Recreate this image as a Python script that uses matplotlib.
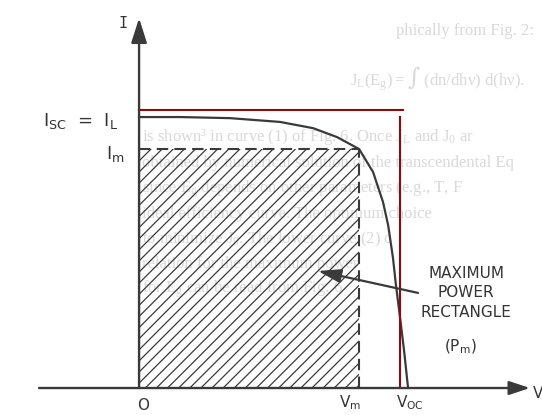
import matplotlib.pyplot as plt
from matplotlib.patches import Rectangle

# I-V curve of the cell (normalised: V / Voc, I / Isc)
v_curve = [0.0, 0.152, 0.338, 0.524, 0.647, 0.736, 0.818, 0.870, 0.907,
           0.926, 0.944, 0.955, 0.970, 0.985, 1.0]
i_curve = [1.0, 1.0, 0.996, 0.982, 0.959, 0.926, 0.882, 0.797, 0.686,
           0.601, 0.480, 0.380, 0.262, 0.140, 0.0]

# maximum power point
v_m, i_m = 0.818, 0.882

# red Isc x Voc box (drawn by hand, slightly off)
red_i, red_h_end = 1.026, 0.981
red_v, red_v_end = 0.970, 1.0

# axes extents
v_axis = [-0.372, 1.453]
i_axis = [0.0, 1.365]

ink = '#3a3a3a'
red = '#8b0a0a'
ghost = '#d9d9d9'

plt.rcParams['mathtext.default'] = 'regular'
plt.rcParams['hatch.linewidth'] = 0.9

fig = plt.figure(figsize=(5.42, 4.15), dpi=100)

# faint show-through of the printed page behind the figure
page_lines = [
    (0.730, 0.915, "phically from Fig. 2:"),
    (0.645, 0.793, r"$J_L(E_g) = \int$ (dn/dh$\nu$) d(h$\nu$)."),
    (0.262, 0.660, "is shown³ in curve (1) of Fig. 6. Once $J_L$ and $J_0$ ar"),
    (0.262, 0.598, "obtained by numerical solution of the transcendental Eq"),
    (0.262, 0.536, "since $E_g$ depends on other parameters (e.g., T, F"),
    (0.262, 0.474, "ideal efficiency curve. The optimum choice"),
    (0.262, 0.414, "to minimize $J_0$. The lower curve (2) c"),
    (0.262, 0.354, "relation for the maximum power"),
    (0.262, 0.294, "for $E_g$ can be read from Fig. 6"),
]
for x, y, s in page_lines:
    fig.text(x, y, s, color=ghost, fontsize=12, family='Liberation Serif',
             zorder=0, math_fontfamily='dejavuserif')

ax = fig.add_axes([0, 0, 1, 1])
ax.set_zorder(1)
ax.set_xlim(-0.517, 1.498)
ax.set_ylim(-0.0996, 1.432)
ax.axis('off')

# hatched maximum power rectangle
ax.add_patch(Rectangle((0, 0), v_m, i_m, facecolor='none', edgecolor=ink,
                       hatch='///', linewidth=0, zorder=2))
ax.plot([0, v_m], [i_m, i_m], color=ink, lw=1.5, dashes=(5.5, 3), zorder=3)
ax.plot([v_m, v_m], [0, i_m], color=ink, lw=1.5, dashes=(5.5, 3), zorder=3)

# I-V curve
ax.plot(v_curve, i_curve, color=ink, lw=1.6, solid_joinstyle='round', zorder=4)

# red box
ax.plot([0, red_h_end], [red_i, red_i], color=red, lw=1.5, zorder=5)
ax.plot([red_v, red_v], [0, red_v_end], color=red, lw=1.5, zorder=5)

# axes with arrow heads
ax.annotate('', xy=(v_axis[1], 0), xytext=(v_axis[0], 0),
            arrowprops=dict(arrowstyle='-|>,head_length=0.9,head_width=0.3',
                            color=ink, lw=1.7, shrinkA=0, shrinkB=0,
                            mutation_scale=14), zorder=6)
ax.annotate('', xy=(0, i_axis[1]), xytext=(0, i_axis[0]),
            arrowprops=dict(arrowstyle='-|>,head_length=1.0,head_width=0.32',
                            color=ink, lw=1.7, shrinkA=0, shrinkB=0,
                            mutation_scale=15), zorder=6)

txt = dict(color='#333333', family='DejaVu Sans', zorder=7)
ax.text(-0.059, 1.347, 'I', fontsize=11, ha='center', va='center',
        color='#333333', family='DejaVu Sans Mono', zorder=7)
ax.text(1.463, -0.02, 'V', fontsize=11, ha='left', va='center', **txt)
ax.text(-0.078, 0.967, '$I_{SC}$  =  $I_L$', fontsize=13, ha='right',
        va='baseline', **txt)
ax.text(-0.052, 0.845, '$I_m$', fontsize=13, ha='right', va='baseline', **txt)
ax.text(0.015, -0.081, 'O', fontsize=11, ha='center', va='baseline', **txt)
ax.text(0.784, -0.072, '$V_m$', fontsize=11, ha='center', va='baseline', **txt)
ax.text(1.007, -0.072, '$V_{OC}$', fontsize=11, ha='center', va='baseline', **txt)

ax.text(1.216, 0.351, 'MAXIMUM\nPOWER\nRECTANGLE', fontsize=11, ha='center',
        va='center', linespacing=1.37, **txt)
ax.text(1.193, 0.151, '($P_m$)', fontsize=11, ha='center', va='center', **txt)

ax.annotate('', xy=(0.665, 0.432), xytext=(1.037, 0.351),
            arrowprops=dict(arrowstyle='-|>,head_length=1.0,head_width=0.3',
                            color=ink, lw=1.6, shrinkA=0, shrinkB=0,
                            mutation_scale=14), zorder=6)

fig.savefig('out.png', dpi=100)
